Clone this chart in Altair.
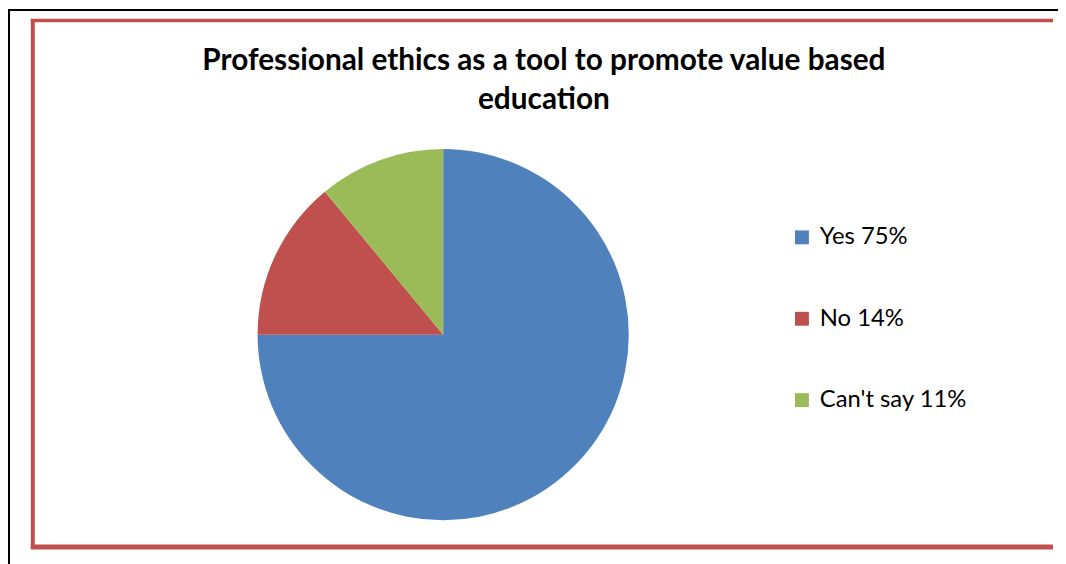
import altair as alt
import pandas as pd

categories = ["Yes", "No", "Can't say"]
values = [75, 14, 11]
colors = ["#4F81BD", "#C0504D", "#9BBB59"]
title_lines = ["Professional ethics as a tool to promote value based", "education"]

labels = [f"{c} {v}%" for c, v in zip(categories, values)]
df = pd.DataFrame({"label": labels, "value": values, "idx": list(range(len(values)))})

W, H = 1058, 556
one = alt.Data(values=[{"a": 1}])

outer = alt.Chart(one).mark_rect(fill=None, stroke="black", strokeWidth=2).encode(
    x=alt.value(1), x2=alt.value(1100), y=alt.value(0), y2=alt.value(700)
)

red = "#C0504D"
frame_left = alt.Chart(one).mark_rule(color=red, strokeWidth=4).encode(
    x=alt.value(25), y=alt.value(9), y2=alt.value(543)
)
frame_top = alt.Chart(one).mark_rule(color=red, strokeWidth=3.5).encode(
    x=alt.value(23), x2=alt.value(1053), y=alt.value(10.5)
)
frame_bottom = alt.Chart(one).mark_rule(color=red, strokeWidth=5).encode(
    x=alt.value(23), x2=alt.value(1053), y=alt.value(541)
)

pie = alt.Chart(df).mark_arc(radius=187, stroke=None).encode(
    theta=alt.Theta("value:Q", stack=True),
    order=alt.Order("idx:Q"),
    color=alt.Color(
        "label:N",
        scale=alt.Scale(domain=labels, range=colors),
        sort=labels,
        legend=alt.Legend(
            title=None,
            orient="none",
            legendX=788,
            legendY=217,
            padding=0,
            symbolType="square",
            symbolSize=196,
            symbolStrokeWidth=0,
            labelFont="Lato",
            labelFontSize=24,
            labelColor="black",
            labelOffset=6,
            rowPadding=58,
        ),
    ),
    x=alt.value(438.5),
    y=alt.value(327),
)

title = alt.Chart(alt.Data(values=[{"t": "\n".join(title_lines)}])).mark_text(
    font="Lato",
    fontWeight="bold",
    fontSize=30,
    color="black",
    align="center",
    baseline="alphabetic",
    lineBreak="\n",
    lineHeight=40,
).encode(text="t:N", x=alt.value(540), y=alt.value(60))

chart = alt.layer(outer, frame_left, frame_top, frame_bottom, pie, title).properties(
    width=W,
    height=H,
    padding=0,
    autosize=alt.AutoSizeParams(type="none"),
    background="white",
).configure_view(strokeWidth=0)

chart.save("out.html", embed_options={"renderer": "svg", "actions": False})
